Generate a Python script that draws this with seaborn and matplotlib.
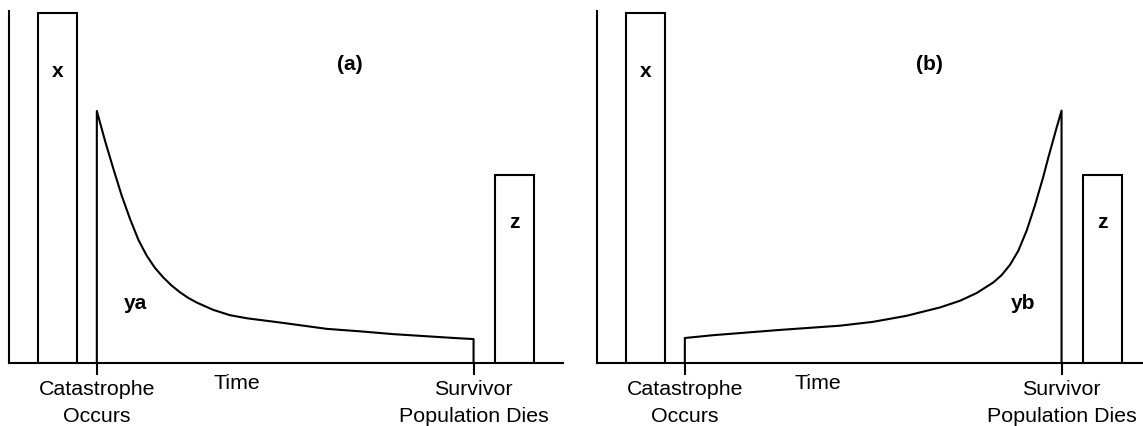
import pandas as pd
import seaborn as sns
import matplotlib.pyplot as plt

# Eventos no eixo do tempo (mesmos nos dois painéis)
event_pos = [15.8, 83.8]
event_labels = ['Catastrophe\nOccurs', 'Survivor\nPopulation Dies']

# Barras x (antes) e z (depois)
bar_pos = [8.7, 91.2]
bar_height = [99.4, 53.4]
bar_names = ['x', 'z']
bar_width = 7.2

# Curva (a): população cai logo após a catástrofe
decline_x = [15.8, 17.3, 18.8, 20.3, 21.8, 23.3, 24.8, 26.3, 27.8, 29.3, 30.8,
             32.3, 33.8, 36.8, 39.8, 42.9, 48.9, 57.3, 63.3, 69.3, 75.3, 81.4, 83.8]
decline_y = [71.6, 63.0, 55.1, 47.5, 40.9, 35.0, 30.5, 27.0, 24.3, 22.0, 20.1,
             18.5, 17.2, 15.1, 13.6, 12.7, 11.5, 9.7, 9.0, 8.2, 7.6, 7.0, 6.8]

# Curva (b): população cresce até o fim
growth_x = [15.8, 20.9, 33.0, 43.8, 49.8, 55.8, 61.9, 65.5, 68.5, 71.5, 73.0,
            74.5, 76.0, 77.5, 79.0, 80.5, 81.4, 82.9, 83.8]
growth_y = [7.1, 7.9, 9.4, 10.6, 11.7, 13.4, 15.8, 17.7, 19.9, 22.9, 25.0,
            27.9, 31.9, 37.6, 44.8, 52.9, 58.3, 66.8, 71.7]

panels = [
    {'left': 9.3, 'cx': decline_x, 'cy': decline_y, 'tag': '(a)', 'tag_x': 61.5,
     'ylab': 'ya', 'ylab_x': 22.8, 'time_x': 41.1},
    {'left': 597.3, 'cx': growth_x, 'cy': growth_y, 'tag': '(b)', 'tag_x': 59.9,
     'ylab': 'yb', 'ylab_x': 76.8, 'time_x': 39.9},
]

sns.set_style('ticks')
plt.rcParams['font.family'] = ['Liberation Sans', 'DejaVu Sans']
plt.rcParams['text.color'] = 'black'
plt.rcParams['xtick.color'] = 'black'

W, H = 1143, 427
fig = plt.figure(figsize=(W / 100, H / 100), dpi=100)

for p in panels:
    ax = fig.add_axes([p['left'] / W, 63 / H, 554 / W, 352 / H])

    bars = pd.DataFrame({'t': bar_pos, 'n': bar_height})
    sns.barplot(data=bars, x='t', y='n', native_scale=True, orient='x',
                width=bar_width / (bar_pos[1] - bar_pos[0]), color='white',
                saturation=1, edgecolor='black', linewidth=1.5, errorbar=None, ax=ax)

    # curva com os traços verticais nos eventos
    curve = pd.DataFrame({'t': [event_pos[0]] + p['cx'] + [event_pos[1]],
                          'n': [0] + p['cy'] + [0]})
    sns.lineplot(data=curve, x='t', y='n', estimator=None, sort=False,
                 color='black', linewidth=1.5, ax=ax)

    ax.set_xlim(0, 100)
    ax.set_ylim(0, 100)
    ax.set_xlabel('')
    ax.set_ylabel('')
    ax.set_yticks([])
    ax.set_xticks(event_pos, event_labels)
    ax.tick_params(axis='x', length=8.6, width=1.5, color='black', labelcolor='black',
                   direction='out', pad=3, labelsize=15.4)
    for lab in ax.get_xticklabels():
        lab.set_linespacing(1.5)
    sns.despine(ax=ax)
    for s in ['left', 'bottom']:
        ax.spines[s].set_linewidth(1.5)
        ax.spines[s].set_color('black')

    ax.text(p['time_x'], -5.4, 'Time', ha='center', va='center', fontsize=15.4, color='black')
    ax.text(p['tag_x'], 85, p['tag'], ha='center', va='center', fontsize=15,
            fontweight='bold', color='black')
    ax.text(p['ylab_x'], 17.1, p['ylab'], ha='center', va='center', fontsize=15,
            fontweight='bold', color='black')
    for xb, nm in zip(bar_pos, bar_names):
        y_txt = 83.0 if nm == 'x' else 40.3
        ax.text(xb, y_txt, nm, ha='center', va='center', fontsize=15,
                fontweight='bold', color='black')

fig.savefig('out.png', dpi=100)
